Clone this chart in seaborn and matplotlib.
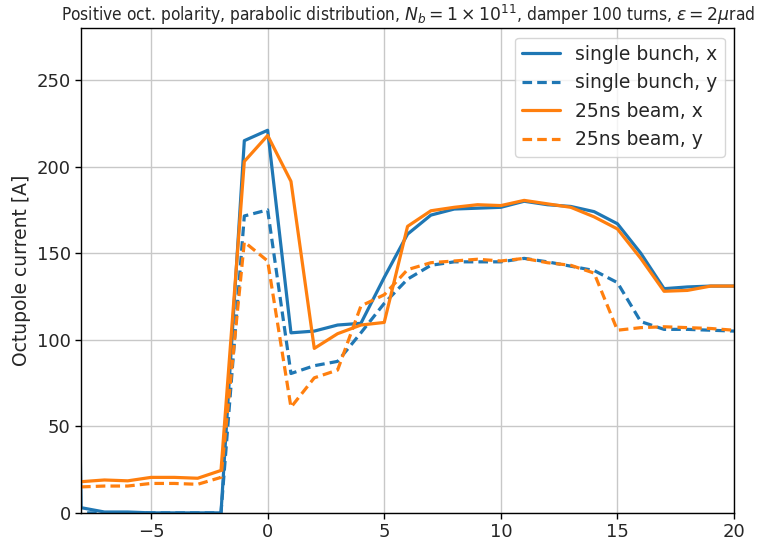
import numpy as np
import pandas as pd
import matplotlib
matplotlib.use("Agg")
import matplotlib.pyplot as plt
import seaborn as sns

x_vals = list(range(-9, 21))

sb_x = [900, 3, 0.5, 0.5, 0, 0, 0, 0, 215, 221, 104, 105, 108.5, 109.5, 136, 161,
        172, 175.5, 176, 176.5, 180, 178, 177, 174, 167, 150, 129.5, 130.5, 131, 131]
sb_y = [0, 0, 0, 0, 0, 0, 0, 0, 171.5, 175, 80.5, 85, 87.5, 104, 121, 135,
        143, 145, 145, 145, 147, 145, 142.5, 140, 133, 110.5, 106, 106, 105.5, 105]
b25_x = [np.nan, 18, 19, 18.5, 20.5, 20.5, 20, 24.5, 203, 218, 191.5, 95, 103.5, 108.5, 110, 165.5,
         174.5, 176.5, 178, 177.5, 180.5, 178.5, 176.5, 171, 164, 147, 128, 128.5, 131, 131]
b25_y = [np.nan, 15, 15.5, 15.5, 17, 17, 16.5, 20.5, 156.5, 145.5, 61, 78, 82.5, 119.5, 126, 140.5,
         144.5, 145.5, 146.5, 145.5, 147, 144.5, 143, 138.5, 105.5, 107, 107.5, 107, 106.5, 105.5]

series_names = ["single bunch, x", "single bunch, y", "25ns beam, x", "25ns beam, y"]
beams = ["single bunch", "single bunch", "25ns beam", "25ns beam"]
planes = ["x", "y", "x", "y"]
values = [sb_x, sb_y, b25_x, b25_y]

rows = []
for name, beam, plane, vals in zip(series_names, beams, planes, values):
    for xv, v in zip(x_vals, vals):
        rows.append({"chromaticity": xv, "current": v, "series": name,
                     "beam": beam, "plane": plane})
df = pd.DataFrame(rows)

sns.set_style("whitegrid")
plt.rcParams["font.family"] = ["DejaVu Sans"]
plt.rcParams["axes.edgecolor"] = "black"
plt.rcParams["grid.color"] = "#c8c8c8"

fig, ax = plt.subplots(figsize=(7.65, 5.41), dpi=100)
fig.subplots_adjust(left=0.106, right=0.9595, top=0.948, bottom=0.052)

palette = {"single bunch": "#1f77b4", "25ns beam": "#ff7f0e"}
sns.lineplot(data=df, x="chromaticity", y="current", hue="beam", style="plane",
             palette=palette, dashes={"x": "", "y": (3, 1.6)}, linewidth=2.3,
             ax=ax, legend=False, sort=False, estimator=None)

from matplotlib.lines import Line2D
handles = [Line2D([], [], color="#1f77b4", lw=2.3, ls="-"),
           Line2D([], [], color="#1f77b4", lw=2.3, dashes=(3, 1.6)),
           Line2D([], [], color="#ff7f0e", lw=2.3, ls="-"),
           Line2D([], [], color="#ff7f0e", lw=2.3, dashes=(3, 1.6))]
ax.legend(handles, series_names, loc="upper right", fontsize=13.5,
          frameon=True, framealpha=0.8, borderpad=0.4, handlelength=2.0)

ax.set_xlim(-8, 20)
ax.set_ylim(0, 280)
ax.set_xticks([-5, 0, 5, 10, 15, 20])
ax.set_yticks([0, 50, 100, 150, 200, 250])
ax.tick_params(axis="both", labelsize=13, direction="out", length=4, width=1,
               color="black", bottom=True, left=True)
ax.set_xlabel("")
ax.set_ylabel("Octupole current [A]", fontsize=13.5)
for s in ax.spines.values():
    s.set_color("black")
    s.set_linewidth(1.0)
ax.grid(True, color="#c8c8c8", lw=1)
ax.set_title(r"Positive oct. polarity, parabolic distribution, $N_b = 1\times10^{11}$, damper 100 turns, $\epsilon = 2\mu$rad",
             fontsize=12.4, fontstretch="condensed", x=0.5, pad=5)

fig.savefig("out.png", dpi=100)
